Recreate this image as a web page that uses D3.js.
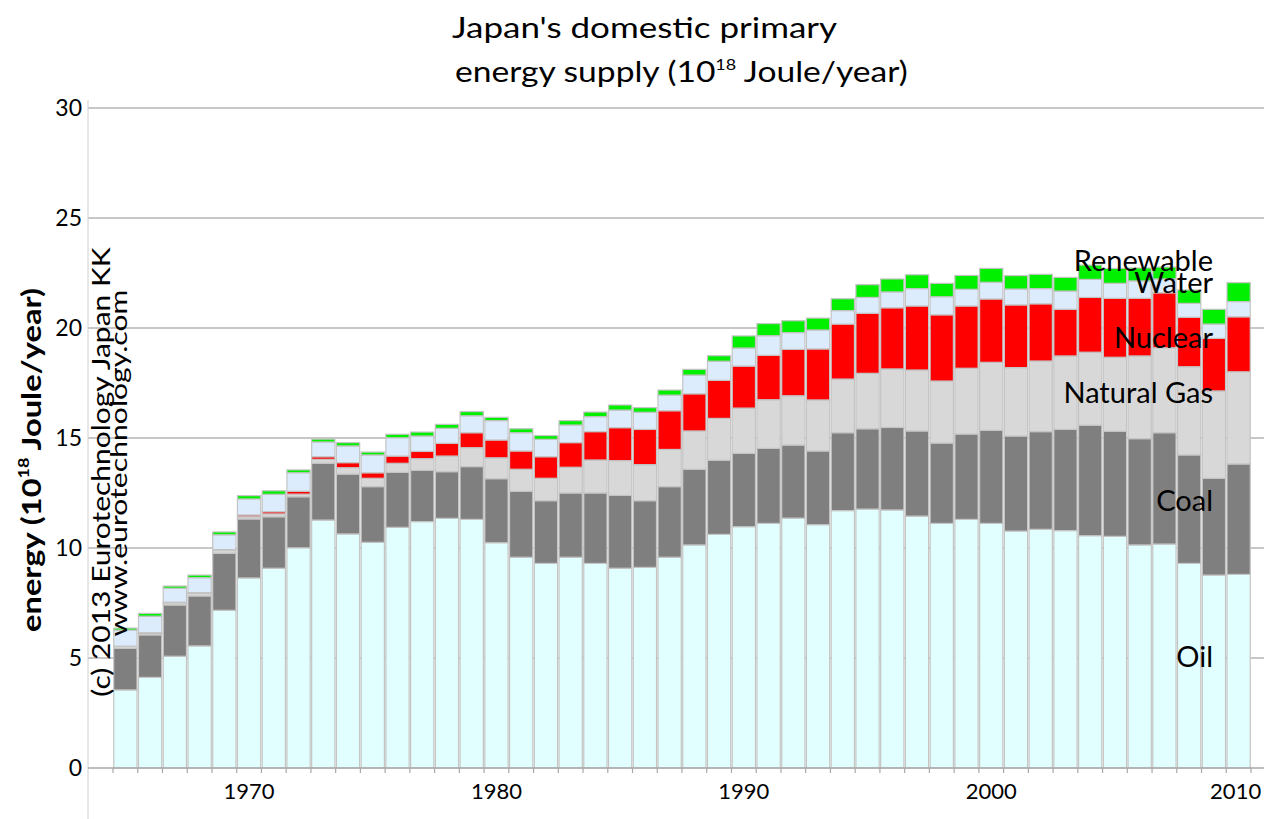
<!DOCTYPE html>
<html>
<head>
<meta charset="utf-8">
<script src="https://cdn.jsdelivr.net/npm/d3@7"></script>
<style>
  body { margin: 0; background: #fff; }
  text { font-family: Lato, "Open Sans", sans-serif; fill: #000; }
</style>
</head>
<body>
<div class="chart"></div>
<script>
// Japan primary energy supply, 10^18 J/year
var years = d3.range(1965, 2011);
var oil = [3.55, 4.12, 5.08, 5.55, 7.17, 8.64, 9.08, 10.01, 11.27, 10.64,
  10.26, 10.94, 11.20, 11.35, 11.30, 10.24, 9.58, 9.30, 9.58, 9.30,
  9.08, 9.12, 9.58, 10.14, 10.62, 10.97, 11.12, 11.36, 11.06, 11.70,
  11.77, 11.73, 11.45, 11.12, 11.30, 11.12, 10.77, 10.85, 10.79, 10.56,
  10.53, 10.14, 10.18, 9.30, 8.77, 8.80];
var coal = [1.89, 1.93, 2.33, 2.27, 2.59, 2.68, 2.34, 2.32, 2.58, 2.72,
  2.53, 2.50, 2.33, 2.12, 2.40, 2.91, 3.00, 2.85, 2.92, 3.20,
  3.31, 3.03, 3.21, 3.44, 3.37, 3.33, 3.41, 3.32, 3.35, 3.54,
  3.65, 3.75, 3.87, 3.65, 3.88, 4.23, 4.32, 4.44, 4.60, 5.02,
  4.77, 4.83, 5.06, 4.93, 4.40, 5.02];
var gas = [0.10, 0.08, 0.10, 0.12, 0.15, 0.10, 0.13, 0.12, 0.18, 0.29,
  0.38, 0.41, 0.53, 0.71, 0.86, 0.95, 1.00, 1.02, 1.17, 1.50,
  1.58, 1.64, 1.69, 1.74, 1.90, 2.06, 2.21, 2.24, 2.32, 2.44,
  2.52, 2.66, 2.77, 2.82, 2.99, 3.09, 3.11, 3.21, 3.34, 3.32,
  3.37, 3.76, 3.86, 4.01, 3.97, 4.19];
var nuclear = [0.00, 0.02, 0.03, 0.03, 0.02, 0.08, 0.10, 0.13, 0.12, 0.23,
  0.25, 0.33, 0.33, 0.58, 0.68, 0.81, 0.83, 0.98, 1.12, 1.29,
  1.50, 1.60, 1.76, 1.69, 1.73, 1.91, 2.02, 2.11, 2.32, 2.50,
  2.73, 2.78, 2.91, 3.01, 2.83, 2.88, 2.85, 2.60, 2.12, 2.49,
  2.68, 2.62, 2.50, 2.25, 2.39, 2.50];
var water = [0.73, 0.75, 0.63, 0.68, 0.67, 0.73, 0.79, 0.84, 0.67, 0.76,
  0.81, 0.83, 0.70, 0.68, 0.77, 0.88, 0.83, 0.79, 0.80, 0.68,
  0.80, 0.78, 0.71, 0.85, 0.87, 0.82, 0.89, 0.76, 0.86, 0.61,
  0.72, 0.72, 0.79, 0.82, 0.76, 0.76, 0.72, 0.69, 0.83, 0.82,
  0.68, 0.79, 0.63, 0.63, 0.65, 0.69];
var renewable = [0.09, 0.13, 0.10, 0.12, 0.13, 0.15, 0.16, 0.13, 0.13, 0.15,
  0.13, 0.16, 0.18, 0.18, 0.19, 0.15, 0.18, 0.17, 0.20, 0.21,
  0.23, 0.21, 0.23, 0.26, 0.25, 0.55, 0.55, 0.54, 0.54, 0.54,
  0.58, 0.59, 0.63, 0.61, 0.63, 0.63, 0.61, 0.65, 0.62, 0.65,
  0.68, 0.59, 0.54, 0.61, 0.67, 0.86];
var sources = ["Oil", "Coal", "Natural Gas", "Nuclear", "Water", "Renewable"];
var yTicks = [0, 5, 10, 15, 20, 25, 30];
var yearLabels = [1970, 1980, 1990, 2000, 2010];

var colors = {
  "Oil": "#e2ffff", "Coal": "#7f7f7f", "Natural Gas": "#d8d8d8",
  "Nuclear": "#ff0000", "Water": "#dcecfd", "Renewable": "#00f000"
};

var svgWidth = 1264;
var svgHeight = 819;

var svg = d3.select(".chart")
    .append("svg")
    .attr("width", svgWidth)
    .attr("height", svgHeight);

// the original font is wider than Lato: stretch a text horizontally to a given width
function stretchTo(g, textSel, w) {
    var bw = textSel.node().getBBox().width;
    g.attr("transform", g.attr("transform") + ` scale(${w / bw},1)`);
}

// table for the stack layout
var series = [oil, coal, gas, nuclear, water, renewable];
var table = years.map(function (yr, i) {
    var row = { year: yr };
    sources.forEach(function (s, k) { row[s] = series[k][i]; });
    return row;
});
var stacked = d3.stack().keys(sources)(table);

var xScale = d3.scaleBand().domain(years).range([113, 1251]).paddingInner(0.06).paddingOuter(0.03);
var yScale = d3.scaleLinear().domain([0, 30]).range([768, 108]);
var gap = xScale.step() - xScale.bandwidth();

// grid lines
svg.append("g")
    .selectAll("line")
    .data(yTicks.slice(1))
    .enter()
    .append("line")
    .attr("x1", 88)
    .attr("x2", svgWidth)
    .attr("y1", function (d) { return yScale(d); })
    .attr("y2", function (d) { return yScale(d); })
    .attr("stroke", "#b4b4b4")
    .attr("stroke-width", 1.5);

// y axis line
svg.append("line")
    .attr("x1", 88).attr("x2", 88)
    .attr("y1", 100).attr("y2", svgHeight)
    .attr("stroke", "#d0d0d0")
    .attr("stroke-width", 1);

// bars
svg.append("g")
    .selectAll("g")
    .data(stacked)
    .enter()
    .append("g")
    .attr("fill", function (d) { return colors[d.key]; })
    .selectAll("rect")
    .data(function (d) { return d; })
    .enter()
    .append("rect")
    .attr("x", function (d) { return xScale(d.data.year); })
    .attr("width", xScale.bandwidth())
    .attr("y", function (d) { return yScale(d[1]); })
    .attr("height", function (d) { return Math.max(0, yScale(d[0]) - yScale(d[1])); })
    .attr("stroke", "#c4c4c4")
    .attr("stroke-width", 1.2);

// x axis base line and boundary ticks
svg.append("line")
    .attr("x1", 88).attr("x2", svgWidth)
    .attr("y1", yScale(0)).attr("y2", yScale(0))
    .attr("stroke", "#a8a8a8")
    .attr("stroke-width", 1.5);

svg.append("g")
    .selectAll("line")
    .data(years.concat([2011]))
    .enter()
    .append("line")
    .attr("x1", function (d) { return d <= 2010 ? xScale(d) - gap / 2 : xScale(2010) + xScale.bandwidth() + gap / 2; })
    .attr("x2", function (d) { return d <= 2010 ? xScale(d) - gap / 2 : xScale(2010) + xScale.bandwidth() + gap / 2; })
    .attr("y1", yScale(0))
    .attr("y2", yScale(0) + 5)
    .attr("stroke", "#a8a8a8")
    .attr("stroke-width", 1.2);

// x axis labels
var xAxis = d3.axisBottom(xScale).tickValues(yearLabels).tickSize(0).tickPadding(15);
var xg = svg.append("g")
    .attr("transform", `translate(0,${yScale(0)})`)
    .call(xAxis);
xg.select(".domain").remove();
xg.selectAll("text")
    .attr("font-size", "22px")
    .attr("fill", "#000");
// keep the last year label inside the picture
xg.selectAll(".tick").filter(function (d) { return d === 2010; })
    .select("text").attr("dx", -3);

// y axis labels
var yAxis = d3.axisLeft(yScale).tickValues(yTicks).tickSize(0).tickPadding(3);
var yg = svg.append("g")
    .attr("transform", "translate(85,0)")
    .call(yAxis);
yg.select(".domain").remove();
yg.selectAll("text")
    .attr("font-size", "23px")
    .attr("fill", "#000");

// title
var tg1 = svg.append("g").attr("transform", "translate(452,38)");
var t1 = tg1.append("text").attr("font-size", "28px").text("Japan's domestic primary");
stretchTo(tg1, t1, 386);

var tg2 = svg.append("g").attr("transform", "translate(455,82)");
var t2 = tg2.append("text").attr("font-size", "28px");
t2.append("tspan").text("energy supply (10");
t2.append("tspan").attr("font-size", "15px").attr("dy", -12).text("18");
t2.append("tspan").attr("dy", 12).text(" Joule/year)");
stretchTo(tg2, t2, 453);

// y axis title
var yTitleG = svg.append("g").attr("transform", "translate(41,460) rotate(-90)");
var yTitle = yTitleG.append("text")
    .attr("text-anchor", "middle")
    .attr("font-size", "27px")
    .attr("font-weight", "bold");
yTitle.append("tspan").text("energy (10");
yTitle.append("tspan").attr("font-size", "15px").attr("dy", -12).text("18");
yTitle.append("tspan").attr("dy", 12).text(" Joule/year)");
stretchTo(yTitleG, yTitle, 344);

// copyright
var cg1 = svg.append("g").attr("transform", "translate(110,472) rotate(-90)");
var c1 = cg1.append("text")
    .attr("text-anchor", "middle")
    .attr("font-size", "25px")
    .text("(c) 2013 Eurotechnology Japan KK");
stretchTo(cg1, c1, 450);
var cg2 = svg.append("g").attr("transform", "translate(127,463) rotate(-90)");
var c2 = cg2.append("text")
    .attr("text-anchor", "middle")
    .attr("font-size", "24px")
    .text("www.eurotechnology.com");
stretchTo(cg2, c2, 347);

// series labels
var labelY = { "Renewable": 271, "Water": 293, "Nuclear": 348, "Natural Gas": 403, "Coal": 511, "Oil": 667 };
svg.append("g")
    .selectAll("text")
    .data(sources)
    .enter()
    .append("text")
    .attr("x", 1213)
    .attr("y", function (d) { return labelY[d]; })
    .attr("text-anchor", "end")
    .attr("font-size", "29px")
    .text(function (d) { return d; });
</script>
</body>
</html>
